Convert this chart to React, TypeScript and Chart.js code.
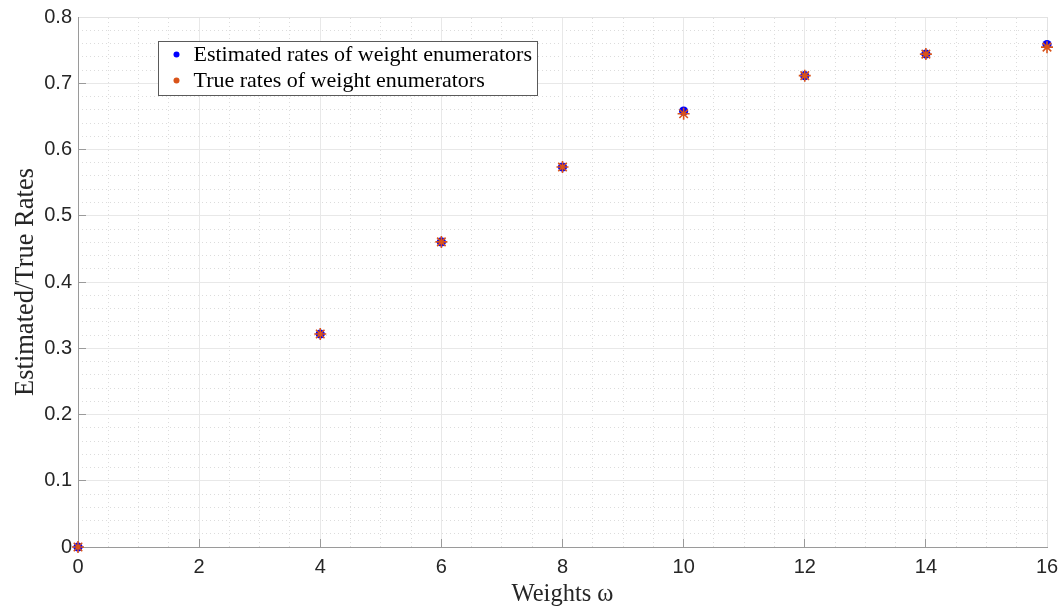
import React, { useEffect, useRef } from "react";
import { Chart, registerables } from "chart.js";

Chart.register(...registerables);

const weights = [0, 4, 6, 8, 10, 12, 14, 16];
const estimatedRates = [0, 0.3215, 0.4605, 0.5735, 0.658, 0.7115, 0.744, 0.7585];
const trueRates = [0, 0.3215, 0.4605, 0.5735, 0.654, 0.7115, 0.744, 0.7545];
const seriesLabels = [
  "Estimated rates of weight enumerators",
  "True rates of weight enumerators",
];
const xTitle = "Weights ω";
const yTitle = "Estimated/True Rates";
const xRange = [0, 16];
const yRange = [0, 0.8];

const BLUE = "#0000ff";
const ORANGE = "#D95319";
const SERIF = "'Liberation Serif', 'Times New Roman', serif";
const SANS = "'Liberation Sans', Arial, Helvetica, sans-serif";

const zeroPad = (s: any) => {
  s.paddingLeft = 0;
  s.paddingRight = 0;
  s.paddingTop = 0;
  s.paddingBottom = 0;
};

const boxLegend = {
  id: "boxLegend",
  afterDraw(chart: any) {
    const { ctx, chartArea } = chart;
    const x0 = chartArea.left + 80.5;
    const y0 = chartArea.top + 24.5;
    const w = 379;
    const h = 54;
    ctx.save();
    ctx.fillStyle = "#ffffff";
    ctx.fillRect(x0, y0, w, h);
    ctx.strokeStyle = "#5a5a5a";
    ctx.lineWidth = 1;
    ctx.strokeRect(x0, y0, w, h);
    const colors = [BLUE, ORANGE];
    ctx.font = `22px ${SERIF}`;
    ctx.textBaseline = "middle";
    ctx.textAlign = "left";
    chart.data.datasets.forEach((ds: any, i: number) => {
      const cy = y0 + 13 + i * 26;
      ctx.beginPath();
      ctx.fillStyle = colors[i];
      ctx.arc(x0 + 18, cy, 3, 0, Math.PI * 2);
      ctx.fill();
      ctx.fillStyle = "#000000";
      ctx.fillText(ds.label, x0 + 35, cy + 1);
    });
    ctx.restore();
  },
};

export default function App() {
  const ref = useRef<HTMLCanvasElement | null>(null);

  useEffect(() => {
    if (!ref.current) return;
    const chart = new Chart(ref.current, {
      type: "scatter",
      data: {
        datasets: [
          {
            label: seriesLabels[0],
            data: weights.map((x, i) => ({ x, y: estimatedRates[i] })),
            pointStyle: "circle",
            pointRadius: 4.6,
            backgroundColor: BLUE,
            borderColor: BLUE,
            borderWidth: 0,
            clip: false,
            order: 2,
          },
          {
            label: seriesLabels[1],
            data: weights.map((x, i) => ({ x, y: trueRates[i] })),
            pointStyle: "star",
            pointRadius: 6,
            backgroundColor: ORANGE,
            borderColor: ORANGE,
            borderWidth: 1.6,
            clip: false,
            order: 1,
          },
        ],
      },
      options: {
        animation: false,
        responsive: false,
        devicePixelRatio: 1,
        events: [],
        layout: { padding: { top: 17, right: 16, left: 0, bottom: 0 } },
        plugins: {
          legend: { display: false },
          tooltip: { enabled: false },
        },
        scales: {
          x2: {
            type: "linear",
            position: "top",
            min: xRange[0],
            max: xRange[1],
            ticks: { display: false, stepSize: 0.5, autoSkip: false },
            grid: { color: "#dcdcdc", lineWidth: 1, drawTicks: false },
            border: { display: true, color: "#e2e2e2", dash: [1, 3] },
            afterFit: (s: any) => {
              s.height = 0;
              zeroPad(s);
            },
          },
          y2: {
            type: "linear",
            position: "right",
            min: yRange[0],
            max: yRange[1],
            ticks: { display: false, stepSize: 0.02, autoSkip: false },
            grid: { color: "#dcdcdc", lineWidth: 1, drawTicks: false },
            border: { display: true, color: "#e2e2e2", dash: [1, 3] },
            afterFit: (s: any) => {
              s.width = 0;
              zeroPad(s);
            },
          },
          x: {
            type: "linear",
            position: "bottom",
            min: xRange[0],
            max: xRange[1],
            ticks: {
              stepSize: 2,
              autoSkip: false,
              maxRotation: 0,
              color: "#262626",
              font: { family: SANS, size: 20 },
              padding: 16,
            },
            grid: {
              color: "#e8e8e8",
              lineWidth: 1,
              drawTicks: true,
              tickLength: -8,
              tickColor: "#9a9a9a",
            },
            border: { display: true, color: "#9a9a9a", width: 1 },
            title: {
              display: true,
              text: xTitle,
              color: "#262626",
              font: { family: SERIF, size: 24.5 },
              padding: { top: 0, bottom: 0 },
            },
            afterFit: (s: any) => {
              s.height = 62;
              zeroPad(s);
            },
          },
          y: {
            type: "linear",
            position: "left",
            min: yRange[0],
            max: yRange[1],
            ticks: {
              stepSize: 0.1,
              autoSkip: false,
              color: "#262626",
              font: { family: SANS, size: 20 },
              padding: 14,
            },
            grid: {
              color: "#e8e8e8",
              lineWidth: 1,
              drawTicks: true,
              tickLength: -8,
              tickColor: "#9a9a9a",
            },
            border: { display: true, color: "#9a9a9a", width: 1 },
            title: {
              display: true,
              text: yTitle,
              color: "#262626",
              font: { family: SERIF, size: 26.5 },
              padding: { top: 10, bottom: 0 },
            },
            afterFit: (s: any) => {
              s.width = 78;
              zeroPad(s);
            },
          },
        },
      },
      plugins: [boxLegend],
    } as any);
    return () => chart.destroy();
  }, []);

  return (
    <div
      style={{
        position: "fixed",
        left: 0,
        top: 0,
        width: 1063,
        height: 609,
        background: "#ffffff",
      }}
    >
      <canvas ref={ref} width={1063} height={609} style={{ display: "block" }} />
    </div>
  );
}
